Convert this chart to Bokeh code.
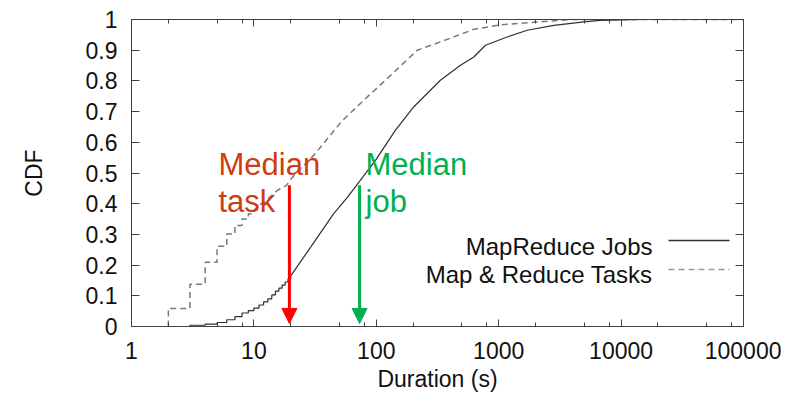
from bokeh.plotting import figure
from bokeh.models import (LogAxis, LinearAxis, FixedTicker, Range1d, Label, Arrow,
                          NormalHead, CustomJSTickFormatter)
from bokeh.embed import file_html
from bokeh.resources import INLINE

# ---------------- data ----------------
# MapReduce Jobs: stair part at integer seconds, then smooth part
jobs_step_x = [1, 3, 4, 5, 6, 7, 8, 9, 10, 11, 12, 13, 14, 15, 16, 17, 18, 19, 20]
jobs_step_y = [0.0, 0.004, 0.008, 0.013, 0.022, 0.032, 0.044, 0.052, 0.060, 0.070,
               0.080, 0.090, 0.103, 0.115, 0.125, 0.135, 0.145, 0.155, 0.165]
jobs_x = [29, 44.7, 57.8, 74, 100, 143, 202, 334, 487, 626, 780, 1172, 1710,
          2820, 4960, 6770, 15000, 100000]
jobs_y = [0.258, 0.367, 0.42, 0.476, 0.545, 0.639, 0.715, 0.802, 0.851, 0.878,
          0.916, 0.943, 0.965, 0.981, 0.992, 0.997, 1.0, 1.0]

# Map & Reduce Tasks
tasks_step_x = [2, 2, 3, 4, 5, 6, 7, 8, 9, 10]
tasks_step_y = [0.0, 0.059, 0.138, 0.209, 0.261, 0.301, 0.329, 0.350, 0.367, 0.378]
tasks_x = [11, 13, 15.5, 18.4, 20, 24, 29, 35, 52.6, 84, 131, 216, 334, 626,
           1035, 1928, 4000, 100000]
tasks_y = [0.394, 0.415, 0.443, 0.459, 0.48, 0.514, 0.546, 0.584, 0.67, 0.747,
           0.818, 0.900, 0.927, 0.968, 0.983, 0.991, 1.0, 1.0]

series_names = ["MapReduce Jobs", "Map & Reduce Tasks"]

median_names = ["task", "job"]
median_x = [19.5, 73]
median_top = [0.46, 0.46]
median_bottom = [0.01, 0.01]

x_ticks = [1, 10, 100, 1000, 10000, 100000]
x_tick_labels = ["1", "10", "100", "1000", "10000", "100000"]
x_minor_ticks = [m * d for d in [1, 10, 100, 1000, 10000] for m in (2, 5, 8)]
y_ticks = [0.0, 0.1, 0.2, 0.3, 0.4, 0.5, 0.6, 0.7, 0.8, 0.9, 1.0]
y_tick_labels = ["0", "0.1", "0.2", "0.3", "0.4", "0.5", "0.6", "0.7", "0.8", "0.9", "1"]


def stair_path(sx, sy, lx, ly):
    px, py = [sx[0]], [sy[0]]
    for i in range(1, len(sx)):
        px += [sx[i], sx[i]]
        py += [sy[i - 1], sy[i]]
    return px + lx, py + ly


FONT = "Liberation Sans"
AXIS_COLOR = "#404040"

p = figure(width=781, height=400, x_axis_type="log",
           x_range=Range1d(1, 100000), y_range=Range1d(0, 1),
           output_backend="svg", toolbar_location=None,
           min_border_left=131, min_border_right=38,
           min_border_top=19, min_border_bottom=74)
p.grid.visible = False
p.outline_line_color = None
p.background_fill_color = "white"
p.border_fill_color = "white"

# curves
jx, jy = stair_path(jobs_step_x, jobs_step_y, jobs_x, jobs_y)
tx, ty = stair_path(tasks_step_x, tasks_step_y, tasks_x, tasks_y)
p.line(tx, ty, line_color="#7a7a7a", line_width=1.5, line_dash="6 4")
p.line(jx, jy, line_color="#303030", line_width=1.2)

# axes
xt = FixedTicker(ticks=x_ticks, minor_ticks=x_minor_ticks)
yt = FixedTicker(ticks=y_ticks)
xa = p.xaxis[0]
xa.ticker = xt
xa.major_label_overrides = dict(zip(x_ticks, x_tick_labels))
ya = p.yaxis[0]
ya.ticker = yt
ya.major_label_overrides = dict(zip(y_ticks, y_tick_labels))

for ax in (xa, ya):
    ax.major_tick_out = 0
    ax.minor_tick_out = 0
    ax.axis_line_color = AXIS_COLOR
    ax.major_tick_line_color = AXIS_COLOR
    ax.minor_tick_line_color = AXIS_COLOR
    ax.major_label_text_font = FONT
    ax.major_label_text_font_size = "23px"
    ax.major_label_text_color = "#111111"
    ax.axis_label_text_font = FONT
    ax.axis_label_text_font_size = "23px"
    ax.axis_label_text_font_style = "normal"
    ax.axis_label_text_color = "#111111"

xa.axis_label = "Duration (s)"
xa.major_tick_in = 7
xa.minor_tick_in = 4
xa.major_label_standoff = 15
xa.axis_label_standoff = 4
ya.axis_label = "CDF"
ya.major_tick_in = 8
ya.minor_tick_in = 0
ya.major_label_standoff = 14
ya.axis_label_standoff = 36

blank = CustomJSTickFormatter(code="return '';")
top = LogAxis(ticker=xt, formatter=blank, major_tick_in=7, minor_tick_in=4,
              major_tick_out=0, minor_tick_out=0, major_label_standoff=0,
              major_label_text_font_size="1px", axis_line_color=AXIS_COLOR,
              major_tick_line_color=AXIS_COLOR, minor_tick_line_color=AXIS_COLOR)
right = LinearAxis(ticker=yt, formatter=blank, major_tick_in=8, minor_tick_in=0,
                   major_tick_out=0, minor_tick_out=0, major_label_standoff=0,
                   major_label_text_font_size="1px", axis_line_color=AXIS_COLOR,
                   major_tick_line_color=AXIS_COLOR)
p.add_layout(top, "above")
p.add_layout(right, "right")

# median arrows and annotations
arrow_colors = ["#ff0000", "#00b050"]
text_colors = ["#cc3d10", "#00b050"]
text_x_screen = [87, 234]
for i in range(2):
    p.add_layout(Arrow(end=NormalHead(size=15, fill_color=arrow_colors[i],
                                      line_color=arrow_colors[i], line_width=1),
                       x_start=median_x[i], y_start=median_top[i],
                       x_end=median_x[i], y_end=median_bottom[i],
                       line_color=arrow_colors[i], line_width=3))
    p.add_layout(Label(x=text_x_screen[i], y=162, x_units="screen", y_units="screen",
                       text="Median", text_font=FONT, text_font_size="31px",
                       text_color=text_colors[i], text_baseline="alphabetic"))
    p.add_layout(Label(x=text_x_screen[i], y=125, x_units="screen", y_units="screen",
                       text=median_names[i], text_font=FONT, text_font_size="31px",
                       text_color=text_colors[i], text_baseline="alphabetic"))

# legend (gnuplot style: text right-aligned, sample on the right)
leg_text_y = [80, 52]
leg_line_y = [86, 57]
leg_colors = ["#303030", "#9a9a9a"]
leg_dash = ["solid", "6 4"]
for i in range(2):
    p.add_layout(Label(x=521, y=leg_text_y[i], x_units="screen", y_units="screen",
                       text=series_names[i], text_font=FONT, text_font_size="24px",
                       text_color="#111111", text_align="right",
                       text_baseline="alphabetic"))
    p.add_layout(Arrow(start=None, end=None, x_start=537, y_start=leg_line_y[i],
                       x_end=598, y_end=leg_line_y[i], start_units="screen",
                       end_units="screen", line_color=leg_colors[i],
                       line_width=1.3, line_dash=leg_dash[i]))

open("out.html", "w").write(file_html(p, INLINE))
